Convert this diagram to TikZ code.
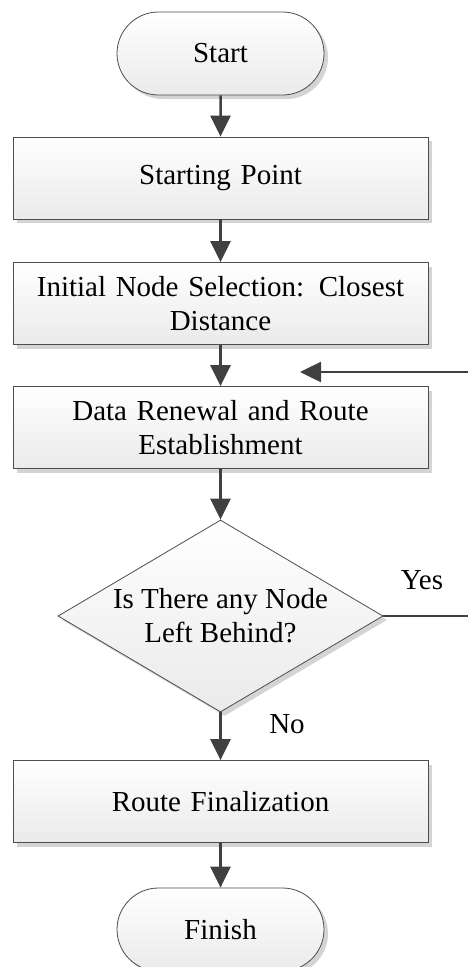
\documentclass[tikz,border=0pt]{standalone}
\usepackage{fontspec}
\setmainfont{Liberation Serif}
\usetikzlibrary{shapes.geometric,shapes.misc,arrows.meta,shadows}
\definecolor{edgegray}{HTML}{4D4D4D}
\definecolor{arrgray}{HTML}{404040}
\definecolor{shadowgray}{HTML}{D4D4D4}
\definecolor{fillbot}{HTML}{EAEAEA}
\begin{document}
\begin{tikzpicture}[x=1pt,y=-1pt,
  txt/.style={font=\fontsize{29}{34}\selectfont, text=black},
  base/.style={draw=edgegray, line width=0.8pt, top color=white, bottom color=fillbot,
    drop shadow={shadow xshift=4pt, shadow yshift=-4pt, fill=shadowgray, opacity=1}},
  box/.style={base, txt, rectangle, minimum width=415pt, minimum height=82pt, align=center, text width=400pt, inner sep=0pt},
  term/.style={base, txt, rounded rectangle, minimum width=207pt, minimum height=83pt, inner sep=0pt},
  dia/.style={base, diamond, minimum width=325pt, minimum height=192pt, inner sep=0pt},
  arr/.style={draw=arrgray, line width=2.5pt, -{Triangle[length=21pt,width=20pt]}},
  flow/.style={draw=arrgray, line width=2.5pt}
]
\useasboundingbox (0,0) rectangle (467,967);
\node[term] (start) at (220.5,53.5) {Start};
\node[box] (sp) at (220.5,178) {Starting Point};
\node[box] (init) at (220.5,303.5) {Initial Node Selection: Closest\\Distance};
\node[box] (data) at (220.5,427.5) {Data Renewal and Route\\Establishment};
\node[dia, label={[txt, align=center]center:Is There any Node\\Left Behind?}] (dec) at (220.5,616) {};
\node[box] (fin) at (220.5,801.5) {Route Finalization};
\node[term] (finish) at (220.5,929.5) {Finish};
\node[txt] (yes) at (422,580) {Yes};
\node[txt] (no) at (287,724) {No};
\coordinate (loopend) at (300,372);
\coordinate (c1) at (490,616);
\coordinate (c2) at (490,372);
\draw[arr] (start) -- (sp);
\draw[arr] (sp) -- (init);
\draw[arr] (init) -- (data);
\draw[arr] (data) -- (dec);
\draw[arr] (dec) -- (fin);
\draw[arr] (fin) -- (finish);
\draw[arr] (dec.east) -- (c1) -- (c2) -- (loopend);
\end{tikzpicture}
\end{document}
